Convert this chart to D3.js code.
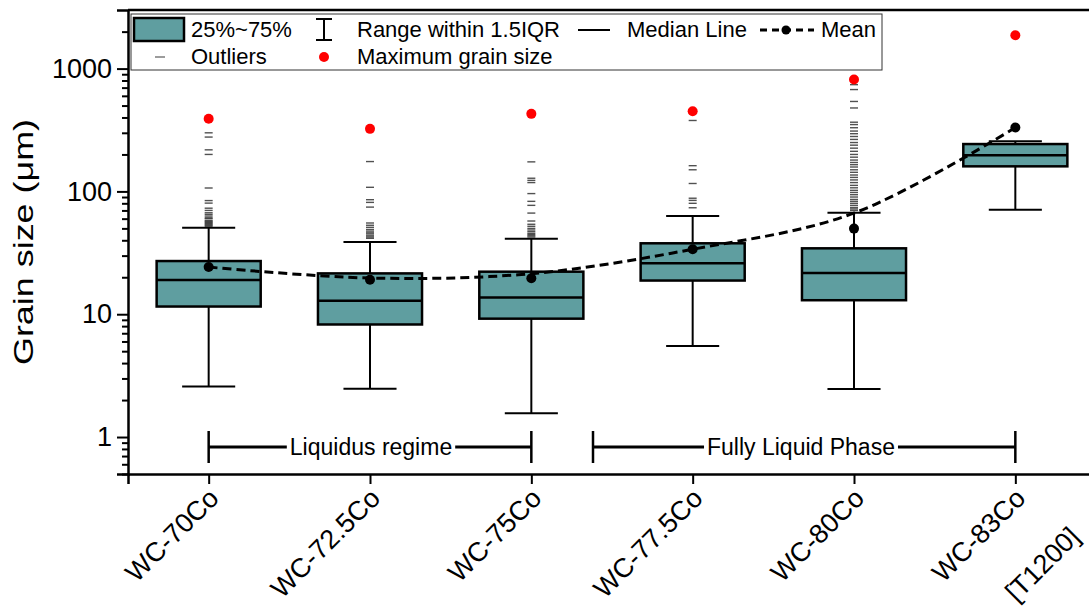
<!DOCTYPE html>
<html>
<head>
<meta charset="utf-8">
<script src="https://cdn.jsdelivr.net/npm/d3@7"></script>
<style>
  body { margin: 0; background: #fff; }
  text { font-family: Arial, "Liberation Sans", sans-serif; }
</style>
</head>
<body>
<div id="chart"></div>
<script>
// values
var categories = ["WC-70Co", "WC-72.5Co", "WC-75Co", "WC-77.5Co", "WC-80Co", "WC-83Co"];
var subLabels = ["", "", "", "", "", "[T1200]"];
var q1 = [11.55, 8.25, 9.2, 18.8, 13.0, 160];
var median = [19.0, 12.9, 13.7, 26, 21.7, 197];
var q3 = [27.1, 21.5, 22.2, 37.8, 34.4, 243];
var whiskLow = [2.58, 2.47, 1.56, 5.52, 2.46, 71];
var whiskHigh = [50.7, 38.7, 41.2, 63, 67.1, 256];
var means = [24.2, 19.1, 19.6, 33.8, 49.8, 331];
var maxSize = [390, 323, 428, 450, 814, 1866];
var meanFit = [24.2, 19.7, 21.4, 33.8, 66.6, 331];
var outliers = [
  [52, 53, 54, 55, 56, 57, 58, 60, 61, 63, 65, 67, 70, 73, 80.3, 84.2, 106.6, 200, 218, 277, 300],
  [41.5, 42.5, 43.5, 45, 46, 47.5, 49, 51, 53, 55.3, 74.5, 81.4, 85.6, 108, 175],
  [42.5, 43.5, 44.5, 45.5, 47, 48.5, 50, 52, 54, 57.4, 66.6, 77, 83, 96, 118, 123, 128, 174],
  [73.6, 80, 84.5, 88, 116, 150, 162, 378],
  [70, 72, 74, 77, 80, 83, 86, 90, 94, 98, 102, 107, 112, 118, 124, 130, 136, 143, 150, 158, 165, 172, 180, 190, 200, 212, 225, 238, 250, 265, 280, 295, 310, 330, 350, 366, 478, 540, 675, 740],
  []
];
var yTicks = [1, 10, 100, 1000];
var yMinor = [0.5, 0.6, 0.7, 0.8, 0.9, 2, 3, 4, 5, 6, 7, 8, 9, 20, 30, 40, 50, 60, 70, 80, 90,
              200, 300, 400, 500, 600, 700, 800, 900, 2000];
var groups = [
  {label: "Liquidus regime", from: 0, to: 2, mid: 371},
  {label: "Fully Liquid Phase", from: 3, to: 5, mid: 801, start: 593}
];

var W = 1089, H = 608;
var mLeft = 128, mTop = 10, mBottom = 474, mRight = 1096;
var boxFill = "#5f9ea0";

var svg = d3.select("#chart").append("svg")
  .attr("width", W).attr("height", H);

var x = d3.scalePoint().domain(categories).range([mLeft, mRight]).padding(0.5);
var y = d3.scaleLog().domain([0.5, 3000]).range([mBottom, mTop]);
var step = x.step();
var bw = step * 0.645;
var cw = bw * 0.51;

var data = categories.map(function(c, i) {
  return {c: c, q1: q1[i], med: median[i], q3: q3[i], lo: whiskLow[i], hi: whiskHigh[i],
          mean: means[i], max: maxSize[i], out: outliers[i]};
});

// whiskers
var g = svg.append("g");
g.selectAll(".wh").data(data).enter().append("line")
  .attr("x1", function(d) { return x(d.c); }).attr("x2", function(d) { return x(d.c); })
  .attr("y1", function(d) { return y(d.lo); }).attr("y2", function(d) { return y(d.hi); })
  .attr("stroke", "#000").attr("stroke-width", 2);
g.selectAll(".capH").data(data).enter().append("line")
  .attr("x1", function(d) { return x(d.c) - cw / 2; }).attr("x2", function(d) { return x(d.c) + cw / 2; })
  .attr("y1", function(d) { return y(d.hi); }).attr("y2", function(d) { return y(d.hi); })
  .attr("stroke", "#000").attr("stroke-width", 2);
g.selectAll(".capL").data(data).enter().append("line")
  .attr("x1", function(d) { return x(d.c) - cw / 2; }).attr("x2", function(d) { return x(d.c) + cw / 2; })
  .attr("y1", function(d) { return y(d.lo); }).attr("y2", function(d) { return y(d.lo); })
  .attr("stroke", "#000").attr("stroke-width", 2);

// boxes
g.selectAll(".box").data(data).enter().append("rect")
  .attr("x", function(d) { return x(d.c) - bw / 2; })
  .attr("y", function(d) { return y(d.q3); })
  .attr("width", bw)
  .attr("height", function(d) { return y(d.q1) - y(d.q3); })
  .attr("fill", boxFill).attr("stroke", "#000").attr("stroke-width", 2.5);
g.selectAll(".med").data(data).enter().append("line")
  .attr("x1", function(d) { return x(d.c) - bw / 2; }).attr("x2", function(d) { return x(d.c) + bw / 2; })
  .attr("y1", function(d) { return y(d.med); }).attr("y2", function(d) { return y(d.med); })
  .attr("stroke", "#000").attr("stroke-width", 2.5);

// outliers
data.forEach(function(d) {
  g.selectAll(null).data(d.out).enter().append("line")
    .attr("x1", x(d.c) - 4).attr("x2", x(d.c) + 4)
    .attr("y1", function(v) { return y(v); }).attr("y2", function(v) { return y(v); })
    .attr("stroke", "#333").attr("stroke-opacity", 0.85).attr("stroke-width", 1.4);
});

// maximum grain size
g.selectAll(".max").data(data).enter().append("circle")
  .attr("cx", function(d) { return x(d.c); }).attr("cy", function(d) { return y(d.max); })
  .attr("r", 5).attr("fill", "#ff0000");

// mean trend
var line = d3.line()
  .x(function(d, i) { return x(categories[i]); })
  .y(function(d) { return y(d); })
  .curve(d3.curveCatmullRom);
g.append("path").datum(meanFit).attr("d", line)
  .attr("fill", "none").attr("stroke", "#000").attr("stroke-width", 3)
  .attr("stroke-dasharray", "9,5");
g.selectAll(".mean").data(data).enter().append("circle")
  .attr("cx", function(d) { return x(d.c); }).attr("cy", function(d) { return y(d.mean); })
  .attr("r", 5).attr("fill", "#000");

// axes
var yAxis = svg.append("g").attr("transform", "translate(" + mLeft + ",0)")
  .call(d3.axisLeft(y).tickValues(yTicks).tickFormat(d3.format("d")).tickSize(11).tickPadding(5));
svg.append("g").attr("transform", "translate(" + mLeft + ",0)")
  .call(d3.axisLeft(y).tickValues(yMinor).tickFormat("").tickSize(6))
  .call(function(s) { s.select(".domain").remove(); });
var xAxis = svg.append("g").attr("transform", "translate(0," + mBottom + ")")
  .call(d3.axisBottom(x).tickSize(10).tickFormat(""));
svg.selectAll(".domain").attr("stroke-width", 2.5);
svg.selectAll(".tick line").attr("stroke-width", 2);
yAxis.selectAll("text").attr("font-size", 27).attr("fill", "#000")
  .style("font-family", "Arial, 'Liberation Sans', sans-serif");

// top frame line
svg.append("line").attr("x1", mLeft).attr("x2", W).attr("y1", mTop).attr("y2", mTop)
  .attr("stroke", "#000").attr("stroke-width", 2.5);

// category labels
var lab = svg.append("g").selectAll("text").data(categories).enter().append("text")
  .attr("transform", function(d) { return "translate(" + (x(d) - 2) + "," + 486 + ") rotate(-45)"; })
  .attr("text-anchor", "end").attr("font-size", 27);
lab.append("tspan").attr("x", 0).attr("dy", "0.72em").text(function(d) { return d; });
lab.append("tspan").attr("x", 11).attr("dy", "2.43em").text(function(d, i) { return subLabels[i]; });

// y title
svg.append("text")
  .attr("transform", "translate(33," + 242 + ") rotate(-90)")
  .attr("text-anchor", "middle").attr("font-size", 28)
  .attr("textLength", 246).attr("lengthAdjust", "spacingAndGlyphs")
  .text("Grain size (\u03bcm)");

// regime brackets
var by = 447;
groups.forEach(function(gr) {
  var x0 = gr.start !== undefined ? gr.start : x(categories[gr.from]);
  var x1 = x(categories[gr.to]);
  var t = svg.append("text").attr("x", gr.mid).attr("y", by + 8)
    .attr("text-anchor", "middle").attr("font-size", 23).text(gr.label);
  var bb = t.node().getBBox();
  [[x0, bb.x - 3], [bb.x + bb.width + 3, x1]].forEach(function(s) {
    svg.append("line").attr("x1", s[0]).attr("x2", s[1]).attr("y1", by).attr("y2", by)
      .attr("stroke", "#000").attr("stroke-width", 3);
  });
  [x0, x1].forEach(function(xx) {
    svg.append("line").attr("x1", xx).attr("x2", xx).attr("y1", by - 16).attr("y2", by + 16)
      .attr("stroke", "#000").attr("stroke-width", 2.5);
  });
});

// legend
var lg = svg.append("g");
lg.append("rect").attr("x", 131).attr("y", 14).attr("width", 751).attr("height", 56)
  .attr("fill", "#fff").attr("stroke", "#333").attr("stroke-width", 1);
lg.append("rect").attr("x", 134).attr("y", 18).attr("width", 50).attr("height", 23)
  .attr("fill", boxFill).attr("stroke", "#000").attr("stroke-width", 2.5);
lg.append("text").attr("x", 191).attr("y", 37).attr("font-size", 22).text("25%~75%");
// whisker symbol
lg.append("line").attr("x1", 324).attr("x2", 324).attr("y1", 19).attr("y2", 40).attr("stroke", "#000").attr("stroke-width", 2);
lg.append("line").attr("x1", 316).attr("x2", 332).attr("y1", 19).attr("y2", 19).attr("stroke", "#000").attr("stroke-width", 2);
lg.append("line").attr("x1", 316).attr("x2", 332).attr("y1", 40).attr("y2", 40).attr("stroke", "#000").attr("stroke-width", 2);
lg.append("text").attr("x", 357).attr("y", 37).attr("font-size", 22).text("Range within 1.5IQR");
lg.append("line").attr("x1", 578).attr("x2", 610).attr("y1", 30).attr("y2", 30).attr("stroke", "#000").attr("stroke-width", 2);
lg.append("text").attr("x", 627).attr("y", 37).attr("font-size", 22).text("Median Line");
lg.append("line").attr("x1", 760).attr("x2", 814).attr("y1", 30).attr("y2", 30)
  .attr("stroke", "#000").attr("stroke-width", 3).attr("stroke-dasharray", "7,5");
lg.append("circle").attr("cx", 786).attr("cy", 30).attr("r", 4.5).attr("fill", "#000");
lg.append("text").attr("x", 821).attr("y", 37).attr("font-size", 22).text("Mean");
lg.append("line").attr("x1", 155).attr("x2", 165).attr("y1", 57).attr("y2", 57).attr("stroke", "#666").attr("stroke-width", 1.3);
lg.append("text").attr("x", 191).attr("y", 64).attr("font-size", 22).text("Outliers");
lg.append("circle").attr("cx", 324).attr("cy", 57).attr("r", 5).attr("fill", "#ff0000");
lg.append("text").attr("x", 357).attr("y", 64).attr("font-size", 22).text("Maximum grain size");
</script>
</body>
</html>
